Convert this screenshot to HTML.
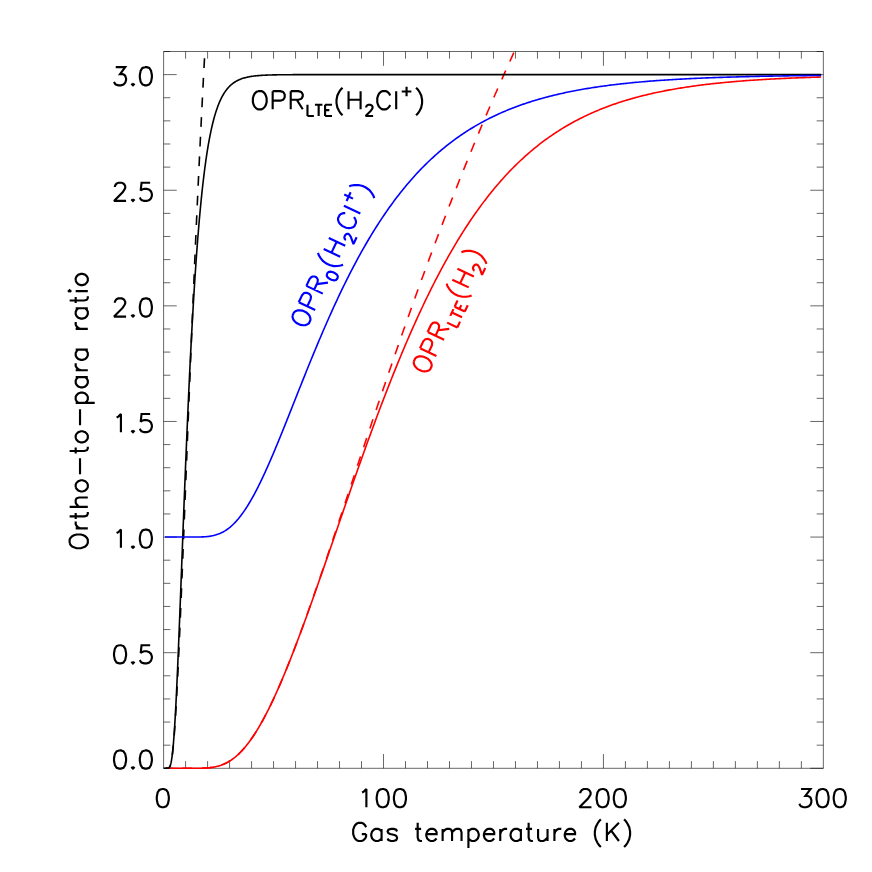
<!DOCTYPE html>
<html lang="en"><head><meta charset="utf-8"><title>Ortho-to-para ratio versus gas temperature</title>
<style>
html,body{margin:0;padding:0;background:#fff}
body{width:872px;height:872px;overflow:hidden;font-family:"Liberation Sans",sans-serif}
svg{display:block}
.t{font-family:"Liberation Sans",sans-serif;font-size:24px;fill:#000;fill-opacity:0;stroke:none}
</style></head><body>
<svg width="872" height="872" viewBox="0 0 872 872">
<rect width="872" height="872" fill="#fff"/>
<g fill="none" stroke-linecap="butt" stroke-linejoin="round">
<!-- axes and ticks -->
<path d="M163.6 51.5H823.35V768.3H163.6ZM185.59 768.3v-7.2M185.59 51.5v7.2M207.58 768.3v-7.2M207.58 51.5v7.2M229.57 768.3v-7.2M229.57 51.5v7.2M251.57 768.3v-7.2M251.57 51.5v7.2M273.56 768.3v-7.2M273.56 51.5v7.2M295.55 768.3v-7.2M295.55 51.5v7.2M317.54 768.3v-7.2M317.54 51.5v7.2M339.53 768.3v-7.2M339.53 51.5v7.2M361.52 768.3v-7.2M361.52 51.5v7.2M383.52 768.3v-14.3M383.52 51.5v14.3M405.51 768.3v-7.2M405.51 51.5v7.2M427.5 768.3v-7.2M427.5 51.5v7.2M449.49 768.3v-7.2M449.49 51.5v7.2M471.48 768.3v-7.2M471.48 51.5v7.2M493.48 768.3v-7.2M493.48 51.5v7.2M515.47 768.3v-7.2M515.47 51.5v7.2M537.46 768.3v-7.2M537.46 51.5v7.2M559.45 768.3v-7.2M559.45 51.5v7.2M581.44 768.3v-7.2M581.44 51.5v7.2M603.43 768.3v-14.3M603.43 51.5v14.3M625.42 768.3v-7.2M625.42 51.5v7.2M647.42 768.3v-7.2M647.42 51.5v7.2M669.41 768.3v-7.2M669.41 51.5v7.2M691.4 768.3v-7.2M691.4 51.5v7.2M713.39 768.3v-7.2M713.39 51.5v7.2M735.38 768.3v-7.2M735.38 51.5v7.2M757.38 768.3v-7.2M757.38 51.5v7.2M779.37 768.3v-7.2M779.37 51.5v7.2M801.36 768.3v-7.2M801.36 51.5v7.2M163.6 768.3h13.1M823.35 768.3h-13.1M163.6 745.18h6.7M823.35 745.18h-6.7M163.6 722.05h6.7M823.35 722.05h-6.7M163.6 698.93h6.7M823.35 698.93h-6.7M163.6 675.81h6.7M823.35 675.81h-6.7M163.6 652.69h13.1M823.35 652.69h-13.1M163.6 629.56h6.7M823.35 629.56h-6.7M163.6 606.44h6.7M823.35 606.44h-6.7M163.6 583.32h6.7M823.35 583.32h-6.7M163.6 560.2h6.7M823.35 560.2h-6.7M163.6 537.07h13.1M823.35 537.07h-13.1M163.6 513.95h6.7M823.35 513.95h-6.7M163.6 490.83h6.7M823.35 490.83h-6.7M163.6 467.71h6.7M823.35 467.71h-6.7M163.6 444.58h6.7M823.35 444.58h-6.7M163.6 421.46h13.1M823.35 421.46h-13.1M163.6 398.34h6.7M823.35 398.34h-6.7M163.6 375.22h6.7M823.35 375.22h-6.7M163.6 352.09h6.7M823.35 352.09h-6.7M163.6 328.97h6.7M823.35 328.97h-6.7M163.6 305.85h13.1M823.35 305.85h-13.1M163.6 282.73h6.7M823.35 282.73h-6.7M163.6 259.6h6.7M823.35 259.6h-6.7M163.6 236.48h6.7M823.35 236.48h-6.7M163.6 213.36h6.7M823.35 213.36h-6.7M163.6 190.24h13.1M823.35 190.24h-13.1M163.6 167.11h6.7M823.35 167.11h-6.7M163.6 143.99h6.7M823.35 143.99h-6.7M163.6 120.87h6.7M823.35 120.87h-6.7M163.6 97.75h6.7M823.35 97.75h-6.7M163.6 74.62h13.1M823.35 74.62h-13.1M163.6 51.5h6.7M823.35 51.5h-6.7" stroke="#000" stroke-width="0.6"/>
<!-- curves -->
<g stroke-width="1.6" stroke-linejoin="round">
<path d="M165.8 768.3L166.58 768.3L167.36 768.3L168.14 768.3L168.92 768.3L169.7 768.3L170.48 768.3L171.26 768.3L172.04 768.3L172.82 768.3L173.6 768.3L174.38 768.3L175.16 768.3L175.94 768.3L176.72 768.3L177.5 768.3L178.28 768.3L179.06 768.3L179.84 768.3L180.62 768.3L181.4 768.3L182.18 768.3L182.96 768.3L183.74 768.3L184.52 768.3L185.3 768.3L186.08 768.3L186.86 768.3L187.64 768.3L188.42 768.3L189.2 768.3L189.98 768.3L190.76 768.3L191.54 768.3L192.32 768.3L193.1 768.29L193.88 768.29L194.66 768.29L195.44 768.28L196.22 768.28L197 768.27L197.78 768.26L198.56 768.25L199.34 768.24L200.12 768.23L200.9 768.21L201.68 768.19L202.46 768.16L203.24 768.13L204.02 768.1L204.8 768.06L205.58 768.02L206.36 767.97L207.14 767.91L207.92 767.85L208.7 767.78L209.48 767.7L210.26 767.61L211.04 767.51L211.82 767.41L212.6 767.29L213.38 767.16L214.16 767.02L214.94 766.87L215.72 766.7L216.5 766.52L217.28 766.33L218.06 766.13L218.84 765.91L219.62 765.67L220.4 765.42L221.18 765.15L221.96 764.86L222.74 764.56L223.52 764.24L224.3 763.9L225.08 763.54L225.86 763.16L226.64 762.77L227.42 762.35L228.2 761.92L228.72 761.61L229.24 761.3L229.76 760.98L230.28 760.65L230.8 760.31L231.32 759.97L231.84 759.61L232.36 759.24L232.88 758.86L233.4 758.48L233.92 758.08L234.44 757.67L234.96 757.26L235.48 756.83L236.01 756.39L236.53 755.95L237.05 755.49L237.57 755.02L238.09 754.55L238.61 754.06L239.13 753.56L239.65 753.05L240.17 752.54L240.69 752.01L241.21 751.47L241.73 750.92L242.25 750.36L242.77 749.79L243.29 749.21L243.81 748.62L244.33 748.02L244.85 747.41L245.37 746.79L245.89 746.16L246.41 745.52L246.93 744.87L247.45 744.21L247.97 743.54L248.49 742.86L249.01 742.17L249.53 741.47L250.05 740.75L250.57 740.03L251.09 739.3L251.61 738.56L252.13 737.81L252.65 737.05L253.17 736.28L253.69 735.49L254.21 734.7L254.73 733.9L255.25 733.09L255.77 732.27L256.29 731.44L256.81 730.61L257.33 729.76L257.85 728.9L258.37 728.03L258.89 727.16L259.41 726.27L259.93 725.38L260.45 724.47L260.97 723.56L261.49 722.64L262.01 721.71L262.53 720.77L263.05 719.82L263.57 718.86L264.09 717.89L264.61 716.92L265.13 715.94L265.65 714.95L266.17 713.95L266.69 712.94L267.21 711.92L267.73 710.9L268.25 709.86L268.77 708.82L269.29 707.77L269.81 706.71L270.33 705.65L270.85 704.58L271.37 703.5L271.63 702.95L271.89 702.41L272.15 701.86L272.41 701.31L272.67 700.76L272.93 700.21L273.19 699.65L273.45 699.1L273.71 698.54L273.97 697.98L274.23 697.42L274.49 696.85L274.75 696.29L275.01 695.72L275.27 695.15L275.53 694.58L275.79 694.01L276.05 693.44L276.31 692.86L276.57 692.28L276.83 691.7L277.09 691.12L277.35 690.54L277.61 689.95L277.87 689.37L278.13 688.78L278.39 688.19L278.65 687.6L278.91 687.01L279.17 686.41L279.43 685.81L279.69 685.22L279.95 684.62L280.21 684.02L280.47 683.41L280.73 682.81L280.99 682.2L281.25 681.6L281.51 680.99L281.77 680.38L282.03 679.76L282.29 679.15L282.55 678.53L282.81 677.92L283.07 677.3L283.33 676.68L283.59 676.06L283.85 675.44L284.11 674.81L284.37 674.19L284.63 673.56L284.89 672.93L285.15 672.3L285.41 671.67L285.67 671.04L285.93 670.4L286.19 669.77L286.45 669.13L286.71 668.49L286.97 667.85L287.23 667.21L287.49 666.57L287.75 665.92L288.01 665.28L288.27 664.63L288.53 663.98L288.79 663.33L289.05 662.68L289.31 662.03L289.57 661.38L289.83 660.72L290.09 660.07L290.35 659.41L290.61 658.75L290.87 658.09L291.13 657.43L291.39 656.77L291.65 656.11L291.91 655.45L292.17 654.78L292.43 654.11L292.69 653.45L292.95 652.78L293.21 652.11L293.47 651.44L293.73 650.76L293.99 650.09L294.25 649.41L294.51 648.74L294.77 648.06L295.03 647.38L295.29 646.71L295.55 646.03L296.87 642.56L298.18 639.08L299.5 635.56L300.82 632.02L302.14 628.46L303.45 624.88L304.77 621.28L306.09 617.65L307.41 614.01L308.72 610.35L310.04 606.67L311.36 602.98L312.67 599.27L313.99 595.55L315.31 591.81L316.63 588.06L317.94 584.31L319.26 580.54L320.58 576.76L321.9 572.97L323.21 569.18L324.53 565.37L325.85 561.57L327.17 557.75L328.48 553.93L329.8 550.11L331.12 546.29L332.43 542.46L333.75 538.64L335.07 534.81L336.39 530.98L337.7 527.15L339.02 523.33L340.34 519.51L341.66 515.69L342.97 511.87L344.29 508.06L345.61 504.25L346.92 500.45L348.24 496.65L349.56 492.87L350.88 489.09L352.19 485.31L353.51 481.55L354.83 477.79L356.15 474.05L357.46 470.31L358.78 466.59L360.1 462.87L361.41 459.17L362.73 455.48L364.05 451.8L365.37 448.14L366.68 444.49L368 440.85L369.32 437.23L370.64 433.62L371.95 430.03L373.27 426.45L374.59 422.89L375.91 419.34L377.22 415.82L378.54 412.31L379.86 408.81L381.17 405.34L382.49 401.88L383.81 398.44L385.13 395.02L386.44 391.62L387.76 388.24L389.08 384.87L390.4 381.53L391.71 378.21L393.03 374.91L394.35 371.62L395.66 368.36L396.98 365.12L398.3 361.9L399.62 358.71L400.93 355.53L402.25 352.37L403.57 349.24L404.89 346.13L406.2 343.04L407.52 339.98L408.84 336.93L410.15 333.91L411.47 330.91L412.79 327.94L414.11 324.99L415.42 322.06L416.74 319.15L418.06 316.27L419.38 313.41L420.69 310.57L422.01 307.76L423.33 304.97L424.64 302.2L425.96 299.46L427.28 296.74L428.6 294.04L429.91 291.37L431.23 288.72L432.55 286.1L433.87 283.5L435.18 280.92L436.5 278.36L437.82 275.83L439.14 273.33L440.45 270.84L441.77 268.38L443.09 265.94L444.4 263.53L445.72 261.14L447.04 258.78L448.36 256.43L449.67 254.11L450.99 251.81L452.31 249.54L453.63 247.29L454.94 245.06L456.26 242.86L457.58 240.67L458.89 238.51L460.21 236.38L461.53 234.26L462.85 232.17L464.16 230.1L465.48 228.05L466.8 226.02L468.12 224.02L469.43 222.03L470.75 220.07L472.07 218.13L473.38 216.22L474.7 214.32L476.02 212.44L477.34 210.59L478.65 208.76L479.97 206.94L481.29 205.15L482.61 203.38L483.92 201.63L485.24 199.9L486.56 198.19L487.88 196.5L489.19 194.82L490.51 193.17L491.83 191.54L493.14 189.93L494.46 188.33L495.78 186.76L497.1 185.2L498.41 183.67L499.73 182.15L501.05 180.65L502.37 179.17L503.68 177.71L505 176.26L506.32 174.83L507.63 173.42L508.95 172.03L510.27 170.66L511.59 169.3L512.9 167.96L514.22 166.63L515.54 165.33L516.86 164.04L518.17 162.76L519.49 161.5L520.81 160.26L522.12 159.04L523.44 157.83L524.76 156.63L526.08 155.45L527.39 154.29L528.71 153.14L530.03 152.01L531.35 150.89L532.66 149.78L533.98 148.69L535.3 147.62L536.62 146.56L537.93 145.51L539.25 144.48L540.57 143.46L541.88 142.45L543.2 141.46L544.52 140.48L545.84 139.52L547.15 138.57L548.47 137.63L549.79 136.7L551.11 135.79L552.42 134.88L553.74 133.99L555.06 133.12L556.37 132.25L557.69 131.4L559.01 130.56L560.33 129.73L561.64 128.91L562.96 128.1L564.28 127.31L565.6 126.52L566.91 125.75L568.23 124.98L569.55 124.23L570.86 123.49L572.18 122.76L573.5 122.04L574.82 121.32L576.13 120.62L577.45 119.93L578.77 119.25L580.09 118.58L581.4 117.92L582.72 117.26L584.04 116.62L585.35 115.99L586.67 115.36L587.99 114.74L589.31 114.14L590.62 113.54L591.94 112.95L593.26 112.37L594.58 111.79L595.89 111.23L597.21 110.67L598.53 110.12L599.85 109.58L601.16 109.05L602.48 108.52L603.8 108.01L605.11 107.5L606.43 106.99L607.75 106.5L609.07 106.01L610.38 105.53L611.7 105.05L613.02 104.59L614.34 104.13L615.65 103.67L616.97 103.23L618.29 102.79L619.6 102.35L620.92 101.93L622.24 101.51L623.56 101.09L624.87 100.68L626.19 100.28L627.51 99.88L628.83 99.49L630.14 99.11L631.46 98.73L632.78 98.36L634.09 97.99L635.41 97.63L636.73 97.27L638.05 96.92L639.36 96.57L640.68 96.23L642 95.9L643.32 95.57L644.63 95.24L645.95 94.92L647.27 94.6L648.59 94.29L649.9 93.99L651.22 93.68L652.54 93.39L653.85 93.09L655.17 92.8L656.49 92.52L657.81 92.24L659.12 91.97L660.44 91.69L661.76 91.43L663.08 91.16L664.39 90.9L665.71 90.65L667.03 90.4L668.34 90.15L669.66 89.91L670.98 89.67L672.3 89.43L673.61 89.2L674.93 88.97L676.25 88.74L677.57 88.52L678.88 88.3L680.2 88.09L681.52 87.88L682.83 87.67L684.15 87.46L685.47 87.26L686.79 87.06L688.1 86.86L689.42 86.67L690.74 86.48L692.06 86.29L693.37 86.11L694.69 85.93L696.01 85.75L697.33 85.57L698.64 85.4L699.96 85.23L701.28 85.06L702.59 84.89L703.91 84.73L705.23 84.57L706.55 84.41L707.86 84.26L709.18 84.11L710.5 83.95L711.82 83.81L713.13 83.66L714.45 83.52L715.77 83.38L717.08 83.24L718.4 83.1L719.72 82.97L721.04 82.83L722.35 82.7L723.67 82.57L724.99 82.45L726.31 82.32L727.62 82.2L728.94 82.08L730.26 81.96L731.57 81.84L732.89 81.73L734.21 81.61L735.53 81.5L736.84 81.39L738.16 81.28L739.48 81.18L740.8 81.07L742.11 80.97L743.43 80.87L744.75 80.77L746.07 80.67L747.38 80.57L748.7 80.48L750.02 80.39L751.33 80.29L752.65 80.2L753.97 80.11L755.29 80.03L756.6 79.94L757.92 79.85L759.24 79.77L760.56 79.69L761.87 79.61L763.19 79.53L764.51 79.45L765.82 79.37L767.14 79.29L768.46 79.22L769.78 79.14L771.09 79.07L772.41 79L773.73 78.93L775.05 78.86L776.36 78.79L777.68 78.73L779 78.66L780.31 78.6L781.63 78.53L782.95 78.47L784.27 78.41L785.58 78.35L786.9 78.29L788.22 78.23L789.54 78.17L790.85 78.11L792.17 78.06L793.49 78L794.8 77.95L796.12 77.89L797.44 77.84L798.76 77.79L800.07 77.74L801.39 77.69L802.71 77.64L804.03 77.59L805.34 77.54L806.66 77.49L807.98 77.45L809.3 77.4L810.61 77.36L811.93 77.31L813.25 77.27L814.56 77.23L815.88 77.18L817.2 77.14L818.52 77.1L819.83 77.06L821.15 77.02" stroke="#f00"/>
<path d="M165.8 768.3L166.58 768.3L167.36 768.3L168.14 768.3L168.92 768.3L169.7 768.3L170.48 768.3L171.26 768.3L172.04 768.3L172.82 768.3L173.6 768.3L174.38 768.3L175.16 768.3L175.94 768.3L176.72 768.3L177.5 768.3L178.28 768.3L179.06 768.3L179.84 768.3L180.62 768.3L181.4 768.3L182.18 768.3L182.96 768.3L183.74 768.3L184.52 768.3L185.3 768.3L186.08 768.3L186.86 768.3L187.64 768.3L188.42 768.3L189.2 768.3L189.98 768.3L190.76 768.3L191.54 768.3L192.32 768.3L193.1 768.29L193.88 768.29L194.66 768.29L195.44 768.28L196.22 768.28L197 768.27L197.78 768.26L198.56 768.25L199.34 768.24L200.12 768.23L200.9 768.21L201.68 768.19L202.46 768.16L203.24 768.13L204.02 768.1L204.8 768.06L205.58 768.02L206.36 767.97L207.14 767.91L207.92 767.85L208.7 767.78L209.48 767.7L210.26 767.61L211.04 767.51L211.82 767.41L212.6 767.29L213.38 767.16L214.16 767.02L214.94 766.87L215.72 766.7L216.5 766.52L217.28 766.33L218.06 766.13L218.84 765.91L219.62 765.67L220.4 765.42L221.18 765.15L221.96 764.86L222.74 764.56L223.52 764.24L224.3 763.9L225.08 763.54L225.86 763.16L226.64 762.77L227.42 762.35L228.2 761.92L228.72 761.61L229.24 761.3L229.76 760.98L230.28 760.65L230.8 760.31L231.32 759.97L231.84 759.61L232.36 759.24L232.88 758.86L233.4 758.48L233.92 758.08L234.44 757.67L234.96 757.26L235.48 756.83L236.01 756.39L236.53 755.95L237.05 755.49L237.57 755.02L238.09 754.55L238.61 754.06L239.13 753.56L239.65 753.05L240.17 752.54L240.69 752.01L241.21 751.47L241.73 750.92L242.25 750.36L242.77 749.79L243.29 749.21L243.81 748.62L244.33 748.02L244.85 747.41L245.37 746.79L245.89 746.16L246.41 745.52L246.93 744.87L247.45 744.21L247.97 743.54L248.49 742.86L249.01 742.17L249.53 741.47L250.05 740.75L250.57 740.03L251.09 739.3L251.61 738.56L252.13 737.81L252.65 737.05L253.17 736.27L253.69 735.49L254.21 734.7L254.73 733.9L255.25 733.09L255.77 732.27L256.29 731.44L256.81 730.6L257.33 729.76L257.85 728.9L258.37 728.03L258.89 727.15L259.41 726.27L259.93 725.37L260.45 724.47L260.97 723.56L261.49 722.63L262.01 721.7L262.53 720.76L263.05 719.81L263.57 718.86L264.09 717.89L264.61 716.92L265.13 715.93L265.65 714.94L266.17 713.94L266.69 712.93L267.21 711.91L267.73 710.89L268.25 709.86L268.77 708.81L269.29 707.76L269.81 706.71L270.33 705.64L270.85 704.57L271.37 703.49L271.63 702.94L271.89 702.4L272.15 701.85L272.41 701.3L272.67 700.75L272.93 700.2L273.19 699.64L273.45 699.09L273.71 698.53L273.97 697.97L274.23 697.4L274.49 696.84L274.75 696.27L275.01 695.71L275.27 695.14L275.53 694.57L275.79 693.99L276.05 693.42L276.31 692.84L276.57 692.26L276.83 691.68L277.09 691.1L277.35 690.52L277.61 689.93L277.87 689.35L278.13 688.76L278.39 688.17L278.65 687.57L278.91 686.98L279.17 686.39L279.43 685.79L279.69 685.19L279.95 684.59L280.21 683.99L280.47 683.38L280.73 682.78L280.99 682.17L281.25 681.56L281.51 680.95L281.77 680.34L282.03 679.73L282.29 679.11L282.55 678.5L282.81 677.88L283.07 677.26L283.33 676.64L283.59 676.02L283.85 675.39L284.11 674.77L284.37 674.14L284.63 673.51L284.89 672.88L285.15 672.25L285.41 671.62L285.67 670.99L285.93 670.35L286.19 669.71L286.45 669.07L286.71 668.44L286.97 667.79L287.23 667.15L287.49 666.51L287.75 665.86L288.01 665.22L288.27 664.57L288.53 663.92L288.79 663.27L289.05 662.61L289.31 661.96L289.57 661.31L289.83 660.65L290.09 659.99L290.35 659.33L290.61 658.67L290.87 658.01L291.13 657.35L291.39 656.69L291.65 656.02L291.91 655.36L292.17 654.69L292.43 654.02L292.69 653.35L292.95 652.68L293.21 652.01L293.47 651.33L293.73 650.66L293.99 649.98L294.25 649.3L294.51 648.63L294.77 647.95L295.03 647.27L295.29 646.58L295.55 645.9L296.87 642.42L298.18 638.92L299.5 635.39L300.82 631.83L302.14 628.25L303.45 624.65L304.77 621.02L306.09 617.37L307.41 613.7L308.72 610L310.04 606.29L311.36 602.56L312.67 598.82L313.99 595.05L315.31 591.27L316.63 587.48L317.94 583.67L319.26 579.84L320.58 576L321.9 572.16L323.21 568.3L324.53 564.42L325.85 560.54L327.17 556.65L328.48 552.75L329.8 548.84L331.12 544.92L332.43 541L333.75 537.07L335.07 533.13L336.39 529.19L337.7 525.25L339.02 521.29L340.34 517.34L341.66 513.38L342.97 509.42L344.29 505.46L345.61 501.49L346.92 497.52L348.24 493.56L349.56 489.59L350.88 485.62L352.19 481.65L353.51 477.68L354.83 473.71L356.15 469.74L357.46 465.78L358.78 461.82L360.1 457.85L361.41 453.9L362.73 449.94L364.05 445.99L365.37 442.04L366.68 438.09L368 434.15L369.32 430.22L370.64 426.29L371.95 422.36L373.27 418.44L374.59 414.52L375.91 410.61L377.22 406.7L378.54 402.8L379.86 398.91L381.17 395.02L382.49 391.14L383.81 387.27L385.13 383.41L386.44 379.55L387.76 375.69L389.08 371.85L390.4 368.01L391.71 364.19L393.03 360.36L394.35 356.55L395.66 352.75L396.98 348.95L398.3 345.16L399.62 341.39L400.93 337.62L402.25 333.85L403.57 330.1L404.89 326.36L406.2 322.63L407.52 318.9L408.84 315.19L410.15 311.48L411.47 307.78L412.79 304.1L414.11 300.42L415.42 296.75L416.74 293.1L418.06 289.45L419.38 285.81L420.69 282.19L422.01 278.57L423.33 274.96L424.64 271.37L425.96 267.78L427.28 264.2L428.6 260.64L429.91 257.08L431.23 253.54L432.55 250L433.87 246.48L435.18 242.97L436.5 239.47L437.82 235.97L439.14 232.49L440.45 229.02L441.77 225.56L443.09 222.11L444.4 218.68L445.72 215.25L447.04 211.83L448.36 208.43L449.67 205.03L450.99 201.65L452.31 198.27L453.63 194.91L454.94 191.56L456.26 188.22L457.58 184.89L458.89 181.57L460.21 178.26L461.53 174.96L462.85 171.68L464.16 168.4L465.48 165.14L466.8 161.88L468.12 158.64L469.43 155.41L470.75 152.18L472.07 148.97L473.38 145.77L474.7 142.58L476.02 139.41L477.34 136.24L478.65 133.08L479.97 129.93L481.29 126.8L482.61 123.67L483.92 120.56L485.24 117.46L486.56 114.36L487.88 111.28L489.19 108.21L490.51 105.15L491.83 102.1L493.14 99.06L494.46 96.03L495.78 93.01L497.1 90L498.41 87L499.73 84.01L501.05 81.03L502.37 78.07L503.68 75.11L505 72.16L506.32 69.23L507.63 66.3L508.95 63.39L510.27 60.48L511.59 57.58L512.9 54.7L514.22 51.82L514.37 51.5" stroke="#f00" stroke-dasharray="9.75 9.9" stroke-dashoffset="3.05"/>
<path d="M163.7 768.3L165.58 768.3L166.36 768.3L167.14 768.29L167.92 768.23L168.7 767.95L169.23 767.52L169.75 766.75L170.27 765.55L170.53 764.74L170.79 763.79L171.05 762.67L171.31 761.37L171.57 759.89L171.83 758.21L172.09 756.33L172.35 754.24L172.61 751.93L172.87 749.41L173.13 746.67L173.39 743.7L173.65 740.52L173.91 737.11L174.17 733.49L174.43 729.66L174.7 725.61L174.96 721.36L175.22 716.92L175.48 712.28L175.74 707.45L176 702.45L176.26 697.28L176.52 691.95L176.78 686.46L177.04 680.83L177.3 675.06L177.56 669.17L177.82 663.16L178.08 657.04L178.34 650.82L178.6 644.51L178.86 638.11L179.12 631.64L179.38 625.09L179.64 618.49L179.9 611.84L180.17 605.15L180.43 598.41L180.69 591.64L180.95 584.85L181.21 578.04L181.47 571.22L181.73 564.4L181.99 557.57L182.25 550.74L182.51 543.93L182.77 537.13L183.03 530.35L183.29 523.59L183.55 516.85L183.81 510.15L184.07 503.48L184.33 496.85L184.59 490.26L184.85 483.71L185.11 477.21L185.37 470.75L185.63 464.35L185.9 458L186.16 451.7L186.42 445.46L186.68 439.28L186.94 433.16L187.2 427.11L187.46 421.11L187.72 415.18L187.98 409.31L188.24 403.51L188.5 397.78L188.76 392.11L189.02 386.51L189.28 380.98L189.54 375.52L189.8 370.13L190.06 364.81L190.32 359.56L190.58 354.39L190.84 349.28L191.1 344.24L191.37 339.27L191.63 334.38L191.89 329.55L192.15 324.8L192.41 320.11L192.67 315.5L192.93 310.95L193.19 306.48L193.45 302.07L193.71 297.73L193.97 293.46L194.23 289.26L194.49 285.12L194.75 281.06L195.01 277.05L195.27 273.12L195.53 269.25L195.79 265.44L196.05 261.7L196.31 258.02L196.57 254.4L196.83 250.84L197.1 247.35L197.36 243.92L197.62 240.54L197.88 237.23L198.14 233.97L198.4 230.78L198.66 227.63L198.92 224.55L199.18 221.52L199.44 218.55L199.7 215.63L199.96 212.76L200.22 209.95L200.48 207.19L200.74 204.48L201 201.82L201.26 199.21L201.52 196.65L201.78 194.13L202.04 191.67L202.3 189.25L202.56 186.88L202.83 184.55L203.09 182.27L203.35 180.03L203.61 177.84L203.87 175.69L204.13 173.58L204.39 171.51L204.65 169.48L204.91 167.49L205.17 165.54L205.43 163.63L205.69 161.76L205.95 159.92L206.21 158.13L206.47 156.36L206.73 154.64L206.99 152.94L207.25 151.28L207.51 149.66L207.77 148.06L208.03 146.5L208.3 144.98L208.56 143.48L208.82 142.01L209.08 140.57L209.34 139.17L209.6 137.79L209.86 136.44L210.12 135.11L210.38 133.82L210.64 132.55L210.9 131.31L211.16 130.09L211.42 128.9L211.68 127.73L211.94 126.59L212.2 125.47L212.46 124.37L212.72 123.3L212.98 122.25L213.24 121.22L213.5 120.22L213.76 119.23L214.03 118.27L214.29 117.32L214.55 116.4L214.81 115.49L215.07 114.61L215.33 113.74L215.59 112.89L215.85 112.06L216.11 111.25L216.37 110.45L216.63 109.67L216.89 108.91L217.15 108.17L217.41 107.44L217.67 106.72L217.93 106.02L218.19 105.34L218.45 104.67L218.71 104.01L218.97 103.37L219.23 102.75L219.49 102.13L219.76 101.53L220.02 100.94L220.28 100.37L220.54 99.81L220.8 99.25L221.32 98.19L221.84 97.17L222.36 96.19L222.88 95.26L223.4 94.36L223.92 93.51L224.44 92.69L224.96 91.9L225.49 91.15L226.01 90.43L226.53 89.75L227.05 89.09L227.57 88.46L228.09 87.86L228.61 87.28L229.13 86.73L229.65 86.2L230.17 85.7L230.69 85.22L231.22 84.76L231.74 84.31L232.26 83.89L232.78 83.49L233.3 83.1L233.82 82.73L234.34 82.38L234.86 82.04L235.38 81.72L235.9 81.41L236.69 80.97L237.47 80.56L238.25 80.17L239.03 79.81L239.81 79.48L240.59 79.16L241.37 78.87L242.16 78.59L242.94 78.34L243.72 78.09L244.5 77.87L245.28 77.66L246.06 77.46L246.84 77.28L247.62 77.11L248.41 76.95L249.19 76.79L249.97 76.65L250.75 76.52L251.53 76.4L252.31 76.28L253.09 76.18L253.88 76.08L254.66 75.98L255.44 75.89L256.22 75.81L257 75.73L257.78 75.66L258.56 75.59L259.35 75.53L260.13 75.47L260.91 75.42L261.69 75.37L262.47 75.32L263.25 75.27L264.03 75.23L264.82 75.19L265.6 75.15L266.38 75.12L267.16 75.09L267.94 75.06L268.72 75.03L269.5 75L270.29 74.98L271.07 74.96L271.85 74.93L272.63 74.91L273.41 74.89L274.19 74.88L274.97 74.86L275.75 74.85L276.54 74.83L277.32 74.82L278.1 74.8L278.88 74.79L279.66 74.78L280.44 74.77L281.22 74.76L282.01 74.75L282.79 74.74L283.57 74.74L284.35 74.73L285.13 74.72L285.91 74.72L286.69 74.71L287.48 74.7L288.26 74.7L289.04 74.69L289.82 74.69L290.6 74.68L291.38 74.68L292.16 74.68L292.95 74.67L293.73 74.67L294.51 74.67L295.29 74.66L296.87 74.66L298.18 74.66L299.5 74.65L300.82 74.65L302.14 74.65L303.45 74.64L304.77 74.64L306.09 74.64L307.41 74.64L308.72 74.64L310.04 74.63L311.36 74.63L312.67 74.63L313.99 74.63L315.31 74.63L316.63 74.63L317.94 74.63L319.26 74.63L320.58 74.63L321.9 74.63L323.21 74.63L324.53 74.63L325.85 74.63L327.17 74.63L328.48 74.63L329.8 74.62L331.12 74.62L332.43 74.62L333.75 74.62L335.07 74.62L336.39 74.62L337.7 74.62L339.02 74.62L340.34 74.62L341.66 74.62L342.97 74.62L344.29 74.62L345.61 74.62L346.92 74.62L348.24 74.62L349.56 74.62L350.88 74.62L352.19 74.62L353.51 74.62L354.83 74.62L356.15 74.62L357.46 74.62L358.78 74.62L360.1 74.62L361.41 74.62L362.73 74.62L364.05 74.62L365.37 74.62L366.68 74.62L368 74.62L369.32 74.62L370.64 74.62L371.95 74.62L373.27 74.62L374.59 74.62L375.91 74.62L377.22 74.62L378.54 74.62L379.86 74.62L381.17 74.62L382.49 74.62L383.81 74.62L385.13 74.62L386.44 74.62L387.76 74.62L389.08 74.62L390.4 74.62L391.71 74.62L393.03 74.62L394.35 74.62L395.66 74.62L396.98 74.62L398.3 74.62L399.62 74.62L400.93 74.62L402.25 74.62L403.57 74.62L404.89 74.62L406.2 74.62L407.52 74.62L408.84 74.62L410.15 74.62L411.47 74.62L412.79 74.62L414.11 74.62L415.42 74.62L416.74 74.62L418.06 74.62L419.38 74.62L420.69 74.62L422.01 74.62L423.33 74.62L424.64 74.62L425.96 74.62L427.28 74.62L428.6 74.62L429.91 74.62L431.23 74.62L432.55 74.62L433.87 74.62L435.18 74.62L436.5 74.62L437.82 74.62L439.14 74.62L440.45 74.62L441.77 74.62L443.09 74.62L444.4 74.62L445.72 74.62L447.04 74.62L448.36 74.62L449.67 74.62L450.99 74.62L452.31 74.62L453.63 74.62L454.94 74.62L456.26 74.62L457.58 74.62L458.89 74.62L460.21 74.62L461.53 74.62L462.85 74.62L464.16 74.62L465.48 74.62L466.8 74.62L468.12 74.62L469.43 74.62L470.75 74.62L472.07 74.62L473.38 74.62L474.7 74.62L476.02 74.62L477.34 74.62L478.65 74.62L479.97 74.62L481.29 74.62L482.61 74.62L483.92 74.62L485.24 74.62L486.56 74.62L487.88 74.62L489.19 74.62L490.51 74.62L491.83 74.62L493.14 74.62L494.46 74.62L495.78 74.62L497.1 74.62L498.41 74.62L499.73 74.62L501.05 74.62L502.37 74.62L503.68 74.62L505 74.62L506.32 74.62L507.63 74.62L508.95 74.62L510.27 74.62L511.59 74.62L512.9 74.62L514.22 74.62L515.54 74.62L516.86 74.62L518.17 74.62L519.49 74.62L520.81 74.62L522.12 74.62L523.44 74.62L524.76 74.62L526.08 74.62L527.39 74.62L528.71 74.62L530.03 74.62L531.35 74.62L532.66 74.62L533.98 74.62L535.3 74.62L536.62 74.62L537.93 74.62L539.25 74.62L540.57 74.62L541.88 74.62L543.2 74.62L544.52 74.62L545.84 74.62L547.15 74.62L548.47 74.62L549.79 74.62L551.11 74.62L552.42 74.62L553.74 74.62L555.06 74.62L556.37 74.62L557.69 74.62L559.01 74.62L560.33 74.62L561.64 74.62L562.96 74.62L564.28 74.62L565.6 74.62L566.91 74.62L568.23 74.62L569.55 74.62L570.86 74.62L572.18 74.62L573.5 74.62L574.82 74.62L576.13 74.62L577.45 74.62L578.77 74.62L580.09 74.62L581.4 74.62L582.72 74.62L584.04 74.62L585.35 74.62L586.67 74.62L587.99 74.62L589.31 74.62L590.62 74.62L591.94 74.62L593.26 74.62L594.58 74.62L595.89 74.62L597.21 74.62L598.53 74.62L599.85 74.62L601.16 74.62L602.48 74.62L603.8 74.62L605.11 74.62L606.43 74.62L607.75 74.62L609.07 74.62L610.38 74.62L611.7 74.62L613.02 74.62L614.34 74.62L615.65 74.62L616.97 74.62L618.29 74.62L619.6 74.62L620.92 74.62L622.24 74.62L623.56 74.62L624.87 74.62L626.19 74.62L627.51 74.62L628.83 74.62L630.14 74.62L631.46 74.62L632.78 74.62L634.09 74.62L635.41 74.62L636.73 74.62L638.05 74.62L639.36 74.62L640.68 74.62L642 74.62L643.32 74.62L644.63 74.62L645.95 74.62L647.27 74.62L648.59 74.62L649.9 74.62L651.22 74.62L652.54 74.62L653.85 74.62L655.17 74.62L656.49 74.62L657.81 74.62L659.12 74.62L660.44 74.62L661.76 74.62L663.08 74.62L664.39 74.62L665.71 74.62L667.03 74.62L668.34 74.62L669.66 74.62L670.98 74.62L672.3 74.62L673.61 74.62L674.93 74.62L676.25 74.62L677.57 74.62L678.88 74.62L680.2 74.62L681.52 74.62L682.83 74.62L684.15 74.62L685.47 74.62L686.79 74.62L688.1 74.62L689.42 74.62L690.74 74.62L692.06 74.62L693.37 74.62L694.69 74.62L696.01 74.62L697.33 74.62L698.64 74.62L699.96 74.62L701.28 74.62L702.59 74.62L703.91 74.62L705.23 74.62L706.55 74.62L707.86 74.62L709.18 74.62L710.5 74.62L711.82 74.62L713.13 74.62L714.45 74.62L715.77 74.62L717.08 74.62L718.4 74.62L719.72 74.62L721.04 74.62L722.35 74.62L723.67 74.62L724.99 74.62L726.31 74.62L727.62 74.62L728.94 74.62L730.26 74.62L731.57 74.62L732.89 74.62L734.21 74.62L735.53 74.62L736.84 74.62L738.16 74.62L739.48 74.62L740.8 74.62L742.11 74.62L743.43 74.62L744.75 74.62L746.07 74.62L747.38 74.62L748.7 74.62L750.02 74.62L751.33 74.62L752.65 74.62L753.97 74.62L755.29 74.62L756.6 74.62L757.92 74.62L759.24 74.62L760.56 74.62L761.87 74.62L763.19 74.62L764.51 74.62L765.82 74.62L767.14 74.62L768.46 74.62L769.78 74.62L771.09 74.62L772.41 74.62L773.73 74.62L775.05 74.62L776.36 74.62L777.68 74.62L779 74.62L780.31 74.62L781.63 74.62L782.95 74.62L784.27 74.62L785.58 74.62L786.9 74.62L788.22 74.62L789.54 74.62L790.85 74.62L792.17 74.62L793.49 74.62L794.8 74.62L796.12 74.62L797.44 74.62L798.76 74.62L800.07 74.62L801.39 74.62L802.71 74.62L804.03 74.62L805.34 74.62L806.66 74.62L807.98 74.62L809.3 74.62L810.61 74.62L811.93 74.62L813.25 74.62L814.56 74.62L815.88 74.62L817.2 74.62L818.52 74.62L819.83 74.62L821.15 74.62" stroke="#000"/>
<path d="M165.8 768.3L166.58 768.3L167.36 768.28L168.14 768.17L168.92 767.77L169.44 767.19L169.96 766.24L170.22 765.59L170.48 764.82L170.74 763.91L171 762.84L171.26 761.62L171.52 760.24L171.78 758.68L172.04 756.95L172.3 755.04L172.56 752.94L172.82 750.66L173.08 748.2L173.34 745.55L173.6 742.71L173.86 739.69L174.12 736.49L174.38 733.12L174.64 729.57L174.9 725.85L175.16 721.97L175.42 717.92L175.68 713.72L175.94 709.37L176.2 704.87L176.46 700.23L176.72 695.46L176.98 690.56L177.24 685.53L177.5 680.38L177.76 675.12L178.02 669.76L178.28 664.29L178.54 658.72L178.8 653.06L179.06 647.31L179.32 641.48L179.58 635.58L179.84 629.6L180.1 623.55L180.36 617.44L180.62 611.27L180.88 605.04L181.14 598.76L181.4 592.44L181.66 586.07L181.92 579.66L182.18 573.21L182.44 566.73L182.7 560.23L182.96 553.69L183.22 547.13L183.48 540.55L183.74 533.95L184 527.34L184.26 520.71L184.52 514.07L184.78 507.42L185.04 500.77L185.3 494.11L185.56 487.45L185.82 480.79L186.08 474.14L186.34 467.48L186.6 460.83L186.86 454.19L187.12 447.55L187.38 440.93L187.64 434.31L187.9 427.71L188.16 421.12L188.42 414.55L188.68 407.99L188.94 401.44L189.2 394.92L189.46 388.41L189.72 381.93L189.98 375.46L190.24 369.02L190.5 362.6L190.76 356.2L191.02 349.82L191.28 343.47L191.54 337.14L191.8 330.83L192.06 324.56L192.32 318.3L192.58 312.08L192.84 305.88L193.1 299.71L193.36 293.56L193.62 287.45L193.88 281.36L194.14 275.3L194.4 269.27L194.66 263.27L194.92 257.3L195.18 251.36L195.44 245.44L195.7 239.56L195.96 233.71L196.22 227.89L196.48 222.09L196.74 216.33L197 210.6L197.26 204.9L197.52 199.23L197.78 193.59L198.04 187.98L198.3 182.4L198.56 176.85L198.82 171.33L199.08 165.84L199.34 160.38L199.6 154.96L199.86 149.56L200.12 144.19L200.38 138.86L200.64 133.55L200.9 128.27L201.16 123.03L201.42 117.81L201.68 112.63L201.94 107.47L202.2 102.35L202.46 97.25L202.72 92.18L202.98 87.15L203.24 82.14L203.5 77.16L203.76 72.21L204.02 67.29L204.28 62.4L204.54 57.53L204.8 52.7L204.87 51.5" stroke="#000" stroke-dasharray="9.75 9.9" stroke-dashoffset="3.05"/>
<path d="M165.03 537.07L165.81 537.07L166.6 537.07L167.38 537.07L168.17 537.07L168.95 537.07L169.74 537.07L170.52 537.07L171.31 537.07L172.09 537.07L172.88 537.07L173.66 537.07L174.45 537.07L175.23 537.07L176.02 537.07L176.8 537.07L177.58 537.07L178.37 537.07L179.15 537.07L179.94 537.07L180.72 537.07L181.51 537.07L182.29 537.07L183.08 537.07L183.86 537.07L184.65 537.07L185.43 537.07L186.22 537.07L187 537.07L187.79 537.07L188.57 537.07L189.35 537.07L190.14 537.07L190.92 537.07L191.71 537.07L192.49 537.07L193.28 537.06L194.06 537.06L194.85 537.06L195.63 537.05L196.42 537.04L197.2 537.03L197.99 537.02L198.77 537.01L199.56 536.99L200.34 536.97L201.13 536.94L201.91 536.91L202.69 536.88L203.48 536.84L204.26 536.79L205.05 536.74L205.83 536.68L206.62 536.61L207.4 536.53L208.19 536.44L208.97 536.34L209.76 536.23L210.54 536.11L211.33 535.98L212.11 535.83L212.9 535.67L213.68 535.49L214.47 535.29L215.25 535.08L216.03 534.86L216.82 534.61L217.6 534.35L218.39 534.07L219.17 533.76L219.96 533.44L220.74 533.09L221.53 532.73L222.31 532.34L223.1 531.92L223.88 531.49L224.4 531.18L224.93 530.87L225.45 530.54L225.97 530.21L226.5 529.86L227.02 529.5L227.54 529.13L228.07 528.74L228.59 528.35L229.11 527.94L229.64 527.52L230.16 527.1L230.68 526.65L231.21 526.2L231.73 525.73L232.25 525.26L232.77 524.77L233.3 524.26L233.82 523.75L234.34 523.22L234.87 522.68L235.39 522.13L235.91 521.57L236.44 520.99L236.96 520.4L237.48 519.8L238.01 519.19L238.53 518.56L239.05 517.92L239.58 517.27L240.1 516.61L240.62 515.93L241.14 515.25L241.67 514.55L242.19 513.84L242.71 513.11L243.24 512.38L243.76 511.63L244.28 510.87L244.81 510.1L245.33 509.32L245.85 508.52L246.38 507.72L246.9 506.9L247.42 506.07L247.95 505.23L248.47 504.38L248.99 503.52L249.51 502.65L250.04 501.76L250.56 500.87L251.08 499.96L251.61 499.05L252.13 498.12L252.65 497.19L253.18 496.24L253.7 495.28L254.22 494.32L254.75 493.34L255.27 492.36L255.79 491.36L256.32 490.36L256.84 489.34L257.36 488.32L257.88 487.29L258.41 486.25L258.93 485.2L259.45 484.14L259.98 483.07L260.5 482L260.76 481.46L261.02 480.92L261.29 480.37L261.55 479.83L261.81 479.28L262.07 478.73L262.33 478.18L262.59 477.62L262.85 477.07L263.12 476.51L263.38 475.95L263.64 475.39L263.9 474.82L264.16 474.26L264.42 473.69L264.69 473.12L264.95 472.55L265.21 471.98L265.47 471.41L265.73 470.83L265.99 470.25L266.25 469.67L266.52 469.09L266.78 468.51L267.04 467.93L267.3 467.34L267.56 466.76L267.82 466.17L268.09 465.58L268.35 464.99L268.61 464.39L268.87 463.8L269.13 463.2L269.39 462.6L269.66 462.01L269.92 461.41L270.18 460.8L270.44 460.2L270.7 459.6L270.96 458.99L271.22 458.38L271.49 457.78L271.75 457.17L272.01 456.56L272.27 455.94L272.53 455.33L272.79 454.72L273.06 454.1L273.32 453.48L273.58 452.87L273.84 452.25L274.1 451.63L274.36 451.01L274.62 450.38L274.89 449.76L275.15 449.14L275.41 448.51L275.67 447.88L275.93 447.26L276.19 446.63L276.46 446L276.72 445.37L276.98 444.74L277.24 444.1L277.5 443.47L277.76 442.84L278.03 442.2L278.29 441.57L278.55 440.93L278.81 440.29L279.07 439.65L279.33 439.02L279.59 438.38L279.86 437.73L280.12 437.09L280.38 436.45L280.64 435.81L280.9 435.17L281.16 434.52L281.43 433.88L281.69 433.23L281.95 432.59L282.21 431.94L282.47 431.29L282.73 430.64L282.99 430L283.26 429.35L283.52 428.7L283.78 428.05L284.04 427.4L284.3 426.74L284.56 426.09L284.83 425.44L285.09 424.79L285.35 424.14L285.61 423.48L285.87 422.83L286.13 422.17L286.4 421.52L286.66 420.87L286.92 420.21L287.18 419.55L287.44 418.9L287.7 418.24L287.96 417.59L288.23 416.93L288.49 416.27L288.75 415.61L289.01 414.96L289.27 414.3L289.53 413.64L289.8 412.98L290.06 412.32L290.32 411.67L290.58 411.01L290.84 410.35L291.1 409.69L291.36 409.03L291.63 408.37L291.89 407.71L292.15 407.05L292.41 406.39L292.67 405.73L292.93 405.07L293.2 404.41L293.46 403.75L293.72 403.09L293.98 402.43L294.24 401.77L294.5 401.11L294.77 400.45L295.03 399.79L295.29 399.13L295.55 398.47L296.87 395.15L298.18 391.83L299.5 388.52L300.82 385.21L302.14 381.91L303.45 378.61L304.77 375.33L306.09 372.05L307.41 368.79L308.72 365.53L310.04 362.29L311.36 359.07L312.67 355.86L313.99 352.66L315.31 349.48L316.63 346.32L317.94 343.18L319.26 340.05L320.58 336.95L321.9 333.86L323.21 330.79L324.53 327.74L325.85 324.72L327.17 321.71L328.48 318.73L329.8 315.77L331.12 312.83L332.43 309.91L333.75 307.02L335.07 304.15L336.39 301.31L337.7 298.49L339.02 295.69L340.34 292.92L341.66 290.17L342.97 287.45L344.29 284.75L345.61 282.08L346.92 279.43L348.24 276.8L349.56 274.21L350.88 271.63L352.19 269.08L353.51 266.56L354.83 264.06L356.15 261.59L357.46 259.15L358.78 256.73L360.1 254.33L361.41 251.96L362.73 249.61L364.05 247.29L365.37 245L366.68 242.73L368 240.48L369.32 238.26L370.64 236.06L371.95 233.89L373.27 231.74L374.59 229.62L375.91 227.52L377.22 225.45L378.54 223.39L379.86 221.37L381.17 219.36L382.49 217.38L383.81 215.43L385.13 213.49L386.44 211.58L387.76 209.69L389.08 207.83L390.4 205.99L391.71 204.16L393.03 202.37L394.35 200.59L395.66 198.83L396.98 197.1L398.3 195.39L399.62 193.7L400.93 192.03L402.25 190.38L403.57 188.75L404.89 187.15L406.2 185.56L407.52 183.99L408.84 182.45L410.15 180.92L411.47 179.41L412.79 177.92L414.11 176.45L415.42 175L416.74 173.57L418.06 172.16L419.38 170.76L420.69 169.39L422.01 168.03L423.33 166.69L424.64 165.37L425.96 164.06L427.28 162.77L428.6 161.5L429.91 160.25L431.23 159.01L432.55 157.79L433.87 156.59L435.18 155.4L436.5 154.23L437.82 153.07L439.14 151.93L440.45 150.8L441.77 149.69L443.09 148.6L444.4 147.52L445.72 146.45L447.04 145.4L448.36 144.37L449.67 143.34L450.99 142.33L452.31 141.34L453.63 140.36L454.94 139.39L456.26 138.44L457.58 137.5L458.89 136.57L460.21 135.66L461.53 134.75L462.85 133.86L464.16 132.99L465.48 132.12L466.8 131.27L468.12 130.43L469.43 129.6L470.75 128.78L472.07 127.98L473.38 127.19L474.7 126.4L476.02 125.63L477.34 124.87L478.65 124.12L479.97 123.38L481.29 122.65L482.61 121.93L483.92 121.22L485.24 120.53L486.56 119.84L487.88 119.16L489.19 118.49L490.51 117.83L491.83 117.18L493.14 116.54L494.46 115.91L495.78 115.29L497.1 114.68L498.41 114.07L499.73 113.48L501.05 112.89L502.37 112.31L503.68 111.74L505 111.18L506.32 110.63L507.63 110.08L508.95 109.54L510.27 109.01L511.59 108.49L512.9 107.98L514.22 107.47L515.54 106.97L516.86 106.48L518.17 106L519.49 105.52L520.81 105.05L522.12 104.58L523.44 104.13L524.76 103.68L526.08 103.23L527.39 102.8L528.71 102.37L530.03 101.94L531.35 101.52L532.66 101.11L533.98 100.71L535.3 100.31L536.62 99.91L537.93 99.52L539.25 99.14L540.57 98.77L541.88 98.4L543.2 98.03L544.52 97.67L545.84 97.32L547.15 96.97L548.47 96.62L549.79 96.28L551.11 95.95L552.42 95.62L553.74 95.3L555.06 94.98L556.37 94.66L557.69 94.36L559.01 94.05L560.33 93.75L561.64 93.45L562.96 93.16L564.28 92.88L565.6 92.59L566.91 92.32L568.23 92.04L569.55 91.77L570.86 91.51L572.18 91.24L573.5 90.99L574.82 90.73L576.13 90.48L577.45 90.24L578.77 89.99L580.09 89.75L581.4 89.52L582.72 89.29L584.04 89.06L585.35 88.83L586.67 88.61L587.99 88.39L589.31 88.18L590.62 87.97L591.94 87.76L593.26 87.56L594.58 87.35L595.89 87.15L597.21 86.96L598.53 86.77L599.85 86.58L601.16 86.39L602.48 86.21L603.8 86.02L605.11 85.85L606.43 85.67L607.75 85.5L609.07 85.33L610.38 85.16L611.7 84.99L613.02 84.83L614.34 84.67L615.65 84.51L616.97 84.36L618.29 84.21L619.6 84.06L620.92 83.91L622.24 83.76L623.56 83.62L624.87 83.48L626.19 83.34L627.51 83.2L628.83 83.06L630.14 82.93L631.46 82.8L632.78 82.67L634.09 82.55L635.41 82.42L636.73 82.3L638.05 82.18L639.36 82.06L640.68 81.94L642 81.82L643.32 81.71L644.63 81.6L645.95 81.49L647.27 81.38L648.59 81.27L649.9 81.17L651.22 81.06L652.54 80.96L653.85 80.86L655.17 80.76L656.49 80.67L657.81 80.57L659.12 80.48L660.44 80.38L661.76 80.29L663.08 80.2L664.39 80.11L665.71 80.03L667.03 79.94L668.34 79.86L669.66 79.77L670.98 79.69L672.3 79.61L673.61 79.53L674.93 79.45L676.25 79.38L677.57 79.3L678.88 79.23L680.2 79.15L681.52 79.08L682.83 79.01L684.15 78.94L685.47 78.87L686.79 78.81L688.1 78.74L689.42 78.67L690.74 78.61L692.06 78.55L693.37 78.48L694.69 78.42L696.01 78.36L697.33 78.3L698.64 78.24L699.96 78.18L701.28 78.13L702.59 78.07L703.91 78.02L705.23 77.96L706.55 77.91L707.86 77.86L709.18 77.81L710.5 77.75L711.82 77.7L713.13 77.66L714.45 77.61L715.77 77.56L717.08 77.51L718.4 77.47L719.72 77.42L721.04 77.38L722.35 77.33L723.67 77.29L724.99 77.25L726.31 77.2L727.62 77.16L728.94 77.12L730.26 77.08L731.57 77.04L732.89 77L734.21 76.96L735.53 76.93L736.84 76.89L738.16 76.85L739.48 76.82L740.8 76.78L742.11 76.75L743.43 76.71L744.75 76.68L746.07 76.65L747.38 76.62L748.7 76.58L750.02 76.55L751.33 76.52L752.65 76.49L753.97 76.46L755.29 76.43L756.6 76.4L757.92 76.37L759.24 76.34L760.56 76.32L761.87 76.29L763.19 76.26L764.51 76.24L765.82 76.21L767.14 76.18L768.46 76.16L769.78 76.13L771.09 76.11L772.41 76.09L773.73 76.06L775.05 76.04L776.36 76.02L777.68 75.99L779 75.97L780.31 75.95L781.63 75.93L782.95 75.91L784.27 75.89L785.58 75.87L786.9 75.85L788.22 75.83L789.54 75.81L790.85 75.79L792.17 75.77L793.49 75.75L794.8 75.73L796.12 75.71L797.44 75.7L798.76 75.68L800.07 75.66L801.39 75.65L802.71 75.63L804.03 75.61L805.34 75.6L806.66 75.58L807.98 75.57L809.3 75.55L810.61 75.54L811.93 75.52L813.25 75.51L814.56 75.49L815.88 75.48L817.2 75.46L818.52 75.45L819.83 75.44L821.15 75.42" stroke="#00f"/>
</g>
<!-- stroked (Hershey) lettering -->
<g stroke-width="2.15" stroke-linejoin="miter" stroke-miterlimit="2.5">
<path d="M161.94 789.04L159.36 789.9L157.64 792.5L156.78 796.82L156.78 799.42L157.64 803.74L159.36 806.34L161.94 807.2L163.66 807.2L166.24 806.34L167.96 803.74L168.82 799.42L168.82 796.82L167.96 792.5L166.24 789.9L163.66 789.04L161.94 789.04" stroke="#000"/>
<path d="M362.08 792.5L363.8 791.63L366.38 789.04L366.38 807.2M381.86 789.04L379.28 789.9L377.56 792.5L376.7 796.82L376.7 799.42L377.56 803.74L379.28 806.34L381.86 807.2L383.58 807.2L386.16 806.34L387.88 803.74L388.74 799.42L388.74 796.82L387.88 792.5L386.16 789.9L383.58 789.04L381.86 789.04M399.06 789.04L396.48 789.9L394.76 792.5L393.9 796.82L393.9 799.42L394.76 803.74L396.48 806.34L399.06 807.2L400.78 807.2L403.36 806.34L405.08 803.74L405.94 799.42L405.94 796.82L405.08 792.5L403.36 789.9L400.78 789.04L399.06 789.04" stroke="#000"/>
<path d="M580.27 793.36L580.27 792.5L581.13 790.77L581.99 789.9L583.71 789.04L587.15 789.04L588.87 789.9L589.73 790.77L590.59 792.5L590.59 794.23L589.73 795.96L588.01 798.55L579.41 807.2L591.45 807.2M601.77 789.04L599.19 789.9L597.47 792.5L596.61 796.82L596.61 799.42L597.47 803.74L599.19 806.34L601.77 807.2L603.49 807.2L606.07 806.34L607.79 803.74L608.65 799.42L608.65 796.82L607.79 792.5L606.07 789.9L603.49 789.04L601.77 789.04M618.97 789.04L616.39 789.9L614.67 792.5L613.81 796.82L613.81 799.42L614.67 803.74L616.39 806.34L618.97 807.2L620.69 807.2L623.27 806.34L624.99 803.74L625.85 799.42L625.85 796.82L624.99 792.5L623.27 789.9L620.69 789.04L618.97 789.04" stroke="#000"/>
<path d="M801.05 789.04L810.51 789.04L805.35 795.96L807.93 795.96L809.65 796.82L810.51 797.69L811.37 800.28L811.37 802.01L810.51 804.61L808.79 806.34L806.21 807.2L803.63 807.2L801.05 806.34L800.19 805.47L799.33 803.74M821.69 789.04L819.11 789.9L817.39 792.5L816.53 796.82L816.53 799.42L817.39 803.74L819.11 806.34L821.69 807.2L823.41 807.2L825.99 806.34L827.71 803.74L828.57 799.42L828.57 796.82L827.71 792.5L825.99 789.9L823.41 789.04L821.69 789.04M838.89 789.04L836.31 789.9L834.59 792.5L833.73 796.82L833.73 799.42L834.59 803.74L836.31 806.34L838.89 807.2L840.61 807.2L843.19 806.34L844.91 803.74L845.77 799.42L845.77 796.82L844.91 792.5L843.19 789.9L840.61 789.04L838.89 789.04" stroke="#000"/>
<path d="M119.19 750.44L116.61 751.3L114.89 753.89L114.03 758.22L114.03 760.82L114.89 765.14L116.61 767.74L119.19 768.6L120.91 768.6L123.49 767.74L125.21 765.14L126.07 760.82L126.07 758.22L125.21 753.89L123.49 751.3L120.91 750.44L119.19 750.44M132.95 766.87L132.09 767.74L132.95 768.6L133.81 767.74L132.95 766.87M144.99 750.44L142.41 751.3L140.69 753.89L139.83 758.22L139.83 760.82L140.69 765.14L142.41 767.74L144.99 768.6L146.71 768.6L149.29 767.74L151.01 765.14L151.87 760.82L151.87 758.22L151.01 753.89L149.29 751.3L146.71 750.44L144.99 750.44" stroke="#000"/>
<path d="M119.19 645.22L116.61 646.09L114.89 648.68L114.03 653.01L114.03 655.6L114.89 659.93L116.61 662.52L119.19 663.39L120.91 663.39L123.49 662.52L125.21 659.93L126.07 655.6L126.07 653.01L125.21 648.68L123.49 646.09L120.91 645.22L119.19 645.22M132.95 661.66L132.09 662.52L132.95 663.39L133.81 662.52L132.95 661.66M150.15 645.22L141.55 645.22L140.69 653.01L141.55 652.14L144.13 651.28L146.71 651.28L149.29 652.14L151.01 653.87L151.87 656.47L151.87 658.2L151.01 660.79L149.29 662.52L146.71 663.39L144.13 663.39L141.55 662.52L140.69 661.66L139.83 659.93" stroke="#000"/>
<path d="M116.61 533.07L118.33 532.2L120.91 529.61L120.91 547.77M132.95 546.04L132.09 546.91L132.95 547.77L133.81 546.91L132.95 546.04M144.99 529.61L142.41 530.47L140.69 533.07L139.83 537.39L139.83 539.99L140.69 544.31L142.41 546.91L144.99 547.77L146.71 547.77L149.29 546.91L151.01 544.31L151.87 539.99L151.87 537.39L151.01 533.07L149.29 530.47L146.71 529.61L144.99 529.61" stroke="#000"/>
<path d="M116.61 417.46L118.33 416.59L120.91 414L120.91 432.16M132.95 430.43L132.09 431.3L132.95 432.16L133.81 431.3L132.95 430.43M150.15 414L141.55 414L140.69 421.78L141.55 420.92L144.13 420.05L146.71 420.05L149.29 420.92L151.01 422.65L151.87 425.24L151.87 426.97L151.01 429.57L149.29 431.3L146.71 432.16L144.13 432.16L141.55 431.3L140.69 430.43L139.83 428.7" stroke="#000"/>
<path d="M114.89 302.71L114.89 301.84L115.75 300.11L116.61 299.25L118.33 298.38L121.77 298.38L123.49 299.25L124.35 300.11L125.21 301.84L125.21 303.57L124.35 305.3L122.63 307.9L114.03 316.55L126.07 316.55M132.95 314.82L132.09 315.68L132.95 316.55L133.81 315.68L132.95 314.82M144.99 298.38L142.41 299.25L140.69 301.84L139.83 306.17L139.83 308.76L140.69 313.09L142.41 315.68L144.99 316.55L146.71 316.55L149.29 315.68L151.01 313.09L151.87 308.76L151.87 306.17L151.01 301.84L149.29 299.25L146.71 298.38L144.99 298.38" stroke="#000"/>
<path d="M114.89 187.1L114.89 186.23L115.75 184.5L116.61 183.64L118.33 182.77L121.77 182.77L123.49 183.64L124.35 184.5L125.21 186.23L125.21 187.96L124.35 189.69L122.63 192.29L114.03 200.94L126.07 200.94M132.95 199.21L132.09 200.07L132.95 200.94L133.81 200.07L132.95 199.21M150.15 182.77L141.55 182.77L140.69 190.56L141.55 189.69L144.13 188.83L146.71 188.83L149.29 189.69L151.01 191.42L151.87 194.02L151.87 195.75L151.01 198.34L149.29 200.07L146.71 200.94L144.13 200.94L141.55 200.07L140.69 199.21L139.83 197.48" stroke="#000"/>
<path d="M115.75 67.16L125.21 67.16L120.05 74.08L122.63 74.08L124.35 74.94L125.21 75.81L126.07 78.4L126.07 80.13L125.21 82.73L123.49 84.46L120.91 85.32L118.33 85.32L115.75 84.46L114.89 83.59L114.03 81.86M132.95 83.59L132.09 84.46L132.95 85.32L133.81 84.46L132.95 83.59M144.99 67.16L142.41 68.02L140.69 70.62L139.83 74.94L139.83 77.54L140.69 81.86L142.41 84.46L144.99 85.32L146.71 85.32L149.29 84.46L151.01 81.86L151.87 77.54L151.87 74.94L151.01 70.62L149.29 68.02L146.71 67.16L144.99 67.16" stroke="#000"/>
<path d="M366.08 827.16L365.22 825.43L363.5 823.7L361.78 822.84L358.34 822.84L356.62 823.7L354.9 825.43L354.04 827.16L353.18 829.75L353.18 834.08L354.04 836.67L354.9 838.4L356.62 840.13L358.34 841L361.78 841L363.5 840.13L365.22 838.4L366.08 836.67L366.08 834.08M361.78 834.08L366.08 834.08M381.56 828.89L381.56 841M381.56 831.49L379.84 829.75L378.12 828.89L375.54 828.89L373.82 829.75L372.1 831.49L371.24 834.08L371.24 835.81L372.1 838.4L373.82 840.13L375.54 841L378.12 841L379.84 840.13L381.56 838.4M397.04 831.49L396.18 829.75L393.6 828.89L391.02 828.89L388.44 829.75L387.58 831.49L388.44 833.22L390.16 834.08L394.46 834.95L396.18 835.81L397.04 837.54L397.04 838.4L396.18 840.13L393.6 841L391.02 841L388.44 840.13L387.58 838.4M417.68 822.84L417.68 837.54L418.54 840.13L420.26 841L421.98 841M415.1 828.89L421.12 828.89M426.28 834.08L436.6 834.08L436.6 832.35L435.74 830.62L434.88 829.75L433.16 828.89L430.58 828.89L428.86 829.75L427.14 831.49L426.28 834.08L426.28 835.81L427.14 838.4L428.86 840.13L430.58 841L433.16 841L434.88 840.13L436.6 838.4M442.62 828.89L442.62 841M442.62 832.35L445.2 829.75L446.92 828.89L449.5 828.89L451.22 829.75L452.08 832.35L452.08 841M452.08 832.35L454.66 829.75L456.38 828.89L458.96 828.89L460.68 829.75L461.54 832.35L461.54 841M468.42 828.89L468.42 847.92M468.42 831.49L470.14 829.75L471.86 828.89L474.44 828.89L476.16 829.75L477.88 831.49L478.74 834.08L478.74 835.81L477.88 838.4L476.16 840.13L474.44 841L471.86 841L470.14 840.13L468.42 838.4M483.9 834.08L494.22 834.08L494.22 832.35L493.36 830.62L492.5 829.75L490.78 828.89L488.2 828.89L486.48 829.75L484.76 831.49L483.9 834.08L483.9 835.81L484.76 838.4L486.48 840.13L488.2 841L490.78 841L492.5 840.13L494.22 838.4M500.24 828.89L500.24 841M500.24 834.08L501.1 831.49L502.82 829.75L504.54 828.89L507.12 828.89M520.88 828.89L520.88 841M520.88 831.49L519.16 829.75L517.44 828.89L514.86 828.89L513.14 829.75L511.42 831.49L510.56 834.08L510.56 835.81L511.42 838.4L513.14 840.13L514.86 841L517.44 841L519.16 840.13L520.88 838.4M528.62 822.84L528.62 837.54L529.48 840.13L531.2 841L532.92 841M526.04 828.89L532.06 828.89M538.08 828.89L538.08 837.54L538.94 840.13L540.66 841L543.24 841L544.96 840.13L547.54 837.54M547.54 828.89L547.54 841M554.42 828.89L554.42 841M554.42 834.08L555.28 831.49L557 829.75L558.72 828.89L561.3 828.89M564.74 834.08L575.06 834.08L575.06 832.35L574.2 830.62L573.34 829.75L571.62 828.89L569.04 828.89L567.32 829.75L565.6 831.49L564.74 834.08L564.74 835.81L565.6 838.4L567.32 840.13L569.04 841L571.62 841L573.34 840.13L575.06 838.4M600.86 819.38L599.14 821.11L597.42 823.7L595.7 827.16L594.84 831.49L594.84 834.95L595.7 839.27L597.42 842.73L599.14 845.33L600.86 847.05M606.88 822.84L606.88 841M618.92 822.84L606.88 834.95M611.18 830.62L618.92 841M624.08 819.38L625.8 821.11L627.52 823.7L629.24 827.16L630.1 831.49L630.1 834.95L629.24 839.27L627.52 842.73L625.8 845.33L624.08 847.05" stroke="#000"/>
<path d="M69.63 543.06L70.5 544.78L72.23 546.5L73.96 547.36L76.55 548.22L80.88 548.22L83.47 547.36L85.2 546.5L86.94 544.78L87.8 543.06L87.8 539.62L86.94 537.9L85.2 536.18L83.47 535.32L80.88 534.46L76.55 534.46L73.96 535.32L72.23 536.18L70.5 537.9L69.63 539.62L69.63 543.06M75.69 528.44L87.8 528.44M80.88 528.44L78.28 527.58L76.55 525.86L75.69 524.14L75.69 521.56M69.63 516.4L84.34 516.4L86.94 515.54L87.8 513.82L87.8 512.1M75.69 518.98L75.69 512.96M69.63 506.94L87.8 506.94M79.15 506.94L76.55 504.36L75.69 502.64L75.69 500.06L76.55 498.34L79.15 497.48L87.8 497.48M75.69 487.16L76.55 488.88L78.28 490.6L80.88 491.46L82.61 491.46L85.2 490.6L86.94 488.88L87.8 487.16L87.8 484.58L86.94 482.86L85.2 481.14L82.61 480.28L80.88 480.28L78.28 481.14L76.55 482.86L75.69 484.58L75.69 487.16M80.02 474.26L80.02 458.26M69.63 451.04L84.34 451.04L86.94 450.18L87.8 448.46L87.8 446.74M75.69 453.62L75.69 447.6M75.69 438.14L76.55 439.86L78.28 441.58L80.88 442.44L82.61 442.44L85.2 441.58L86.94 439.86L87.8 438.14L87.8 435.56L86.94 433.84L85.21 432.12L82.61 431.26L80.88 431.26L78.29 432.12L76.56 433.84L75.69 435.56L75.69 438.14M80.02 425.24L80.02 409.24M75.69 402.88L94.72 402.88M78.29 402.88L76.56 401.16L75.69 399.44L75.69 396.86L76.56 395.14L78.29 393.42L80.88 392.56L82.61 392.56L85.21 393.42L86.94 395.14L87.8 396.86L87.8 399.44L86.94 401.16L85.21 402.88M75.69 377.08L87.8 377.08M78.29 377.08L76.56 378.8L75.69 380.52L75.69 383.1L76.56 384.82L78.29 386.54L80.88 387.4L82.61 387.4L85.21 386.54L86.94 384.82L87.8 383.1L87.8 380.52L86.94 378.8L85.21 377.08M75.69 370.2L87.8 370.2M80.88 370.2L78.29 369.34L76.56 367.62L75.69 365.9L75.69 363.32M75.69 349.56L87.8 349.56M78.29 349.56L76.56 351.28L75.69 353L75.69 355.58L76.56 357.3L78.29 359.02L80.88 359.88L82.61 359.88L85.21 359.02L86.94 357.3L87.8 355.58L87.8 353L86.94 351.28L85.21 349.56M75.69 328.92L87.8 328.92M80.88 328.92L78.29 328.06L76.56 326.34L75.69 324.62L75.69 322.04M75.69 308.28L87.8 308.28M78.29 308.28L76.56 310L75.69 311.72L75.69 314.3L76.56 316.02L78.29 317.74L80.88 318.6L82.61 318.6L85.21 317.74L86.94 316.02L87.8 314.3L87.8 311.72L86.94 310L85.21 308.28M69.64 300.54L84.34 300.54L86.94 299.68L87.8 297.96L87.8 296.24M75.69 303.12L75.69 297.1M69.64 291.94L70.5 291.08L69.64 290.22L68.77 291.08L69.64 291.94M75.69 291.08L87.8 291.08M75.69 280.76L76.56 282.48L78.29 284.2L80.88 285.06L82.61 285.06L85.21 284.2L86.94 282.48L87.8 280.76L87.8 278.18L86.94 276.46L85.21 274.74L82.61 273.88L80.88 273.88L78.29 274.74L76.56 276.46L75.69 278.18L75.69 280.76" stroke="#000"/>
<path d="M258.04 91.13L256.32 92L254.6 93.73L253.74 95.46L252.88 98.05L252.88 102.38L253.74 104.97L254.6 106.7L256.32 108.44L258.04 109.3L261.48 109.3L263.2 108.44L264.92 106.7L265.78 104.97L266.64 102.38L266.64 98.05L265.78 95.46L264.92 93.73L263.2 92L261.48 91.13L258.04 91.13M272.66 91.13L272.66 109.3M272.66 91.13L280.4 91.13L282.98 92L283.84 92.86L284.7 94.59L284.7 97.19L283.84 98.92L282.98 99.78L280.4 100.65L272.66 100.65M290.72 91.13L290.72 109.3M290.72 91.13L298.46 91.13L301.04 92L301.9 92.86L302.76 94.59L302.76 96.33L301.9 98.05L301.04 98.92L298.46 99.78L290.72 99.78M296.74 99.78L302.76 109.3M307.47 104.74L307.47 116M307.47 116L313.87 116M318.67 104.74L318.67 116M314.94 104.74L322.4 104.74M325.07 104.74L325.07 116M325.07 104.74L332 104.74M325.07 110.1L329.33 110.1M325.07 116L332 116M342.53 87.67L340.81 89.41L339.09 92L337.37 95.46L336.51 99.78L336.51 103.25L337.37 107.57L339.09 111.03L340.81 113.62L342.53 115.35M348.55 91.13L348.55 109.3M360.59 91.13L360.59 109.3M348.55 99.78L360.59 99.78M366.16 107.42L366.16 106.88L366.69 105.81L367.23 105.27L368.29 104.74L370.42 104.74L371.49 105.27L372.02 105.81L372.56 106.88L372.56 107.96L372.02 109.03L370.96 110.64L365.63 116L373.09 116M390.17 95.46L389.31 93.73L387.59 92L385.87 91.13L382.43 91.13L380.71 92L378.99 93.73L378.13 95.46L377.27 98.05L377.27 102.38L378.13 104.97L378.99 106.7L380.71 108.44L382.43 109.3L385.87 109.3L387.59 108.44L389.31 106.7L390.17 104.97M396.19 91.13L396.19 109.3M406.56 86.65L406.56 96.3M401.76 91.47L411.36 91.47M416.07 87.67L417.79 89.41L419.51 92L421.23 95.46L422.09 99.78L422.09 103.25L421.23 107.57L419.51 111.03L417.79 113.62L416.07 115.35" stroke="#000"/>
<path d="M292.53 315.49L292.59 317.41L293.42 319.7L294.63 321.21L296.61 323.09L300.53 324.93L303.24 325.25L305.17 325.21L307.47 324.38L308.98 323.19L310.44 320.08L310.39 318.15L309.55 315.86L308.35 314.35L306.36 312.47L302.45 310.63L299.73 310.31L297.8 310.36L295.51 311.18L293.99 312.37L292.53 315.49M298.74 302.25L315.19 309.95M298.74 302.25L302.02 295.24L303.9 293.27L305.04 292.86L306.98 292.81L309.33 293.91L310.53 295.42L310.95 296.57L310.64 299.27L307.35 306.28M306.4 285.89L322.85 293.6M306.4 285.89L309.68 278.88L311.56 276.91L312.71 276.5L314.64 276.46L316.2 277.19L317.41 278.7L317.82 279.85L317.51 282.55L314.23 289.56M316.78 284.11L327.95 282.69M326.95 274.08L326.76 275.75L327.76 277.4L329.97 279.02L331.42 279.7L334.08 280.36L335.99 280.08L337.15 278.85L337.6 277.89L337.8 276.21L336.79 274.56L334.59 272.94L333.13 272.26L330.48 271.61L328.57 271.89L327.4 273.11L326.95 274.08M318 252.96L318.84 255.25L320.46 257.91L322.86 260.94L326.41 263.55L329.55 265.02L333.83 266.07L337.69 265.98L340.77 265.53L343.07 264.7M323.69 248.98L340.14 256.68M328.8 238.07L345.25 245.78M331.52 252.65L336.63 241.74M345.91 239.93L345.42 239.71L344.68 238.77L344.42 238.06L344.38 236.87L345.29 234.93L346.23 234.2L346.94 233.94L348.13 233.91L349.11 234.37L349.85 235.31L350.86 236.95L353.45 244.06L356.62 237.3M345.26 213.12L343.33 213.16L341.03 213.99L339.52 215.18L338.06 218.29L338.12 220.22L338.95 222.51L340.15 224.02L342.14 225.9L346.06 227.74L348.77 228.06L350.7 228.01L353 227.19L354.51 226L355.97 222.88L355.92 220.96L355.08 218.67L353.88 217.15M343.9 205.83L360.35 213.54M344.23 194.54L352.98 198.63M346.57 200.93L350.64 192.24M349.2 186.36L351.5 185.53L354.58 185.08L358.44 184.99L362.72 186.04L365.85 187.51L369.41 190.13L371.81 193.15L373.43 195.81L374.27 198.1" stroke="#00f"/>
<path d="M413.76 361.56L413.81 363.49L414.64 365.78L415.84 367.29L417.82 369.18L421.74 371.02L424.45 371.35L426.38 371.3L428.68 370.48L430.2 369.3L431.66 366.18L431.61 364.26L430.78 361.97L429.58 360.45L427.6 358.57L423.68 356.73L420.97 356.4L419.04 356.44L416.74 357.26L415.22 358.45L413.76 361.56M419.98 348.33L436.42 356.07M419.98 348.33L423.28 341.33L425.16 339.36L426.31 338.95L428.24 338.91L430.59 340.02L431.79 341.53L432.21 342.68L431.89 345.38L428.59 352.39M427.67 331.99L444.11 339.73M427.67 331.99L430.97 324.99L432.85 323.02L434 322.61L435.93 322.57L437.5 323.31L438.7 324.82L439.11 325.97L438.8 328.67L435.5 335.68M438.06 330.23L449.24 328.83M447.11 322.63L457.31 327.42M457.31 327.42L460.03 321.63M451.88 312.49L462.07 317.29M450.29 315.87L453.47 309.12M454.61 306.7L464.8 311.5M454.61 306.7L457.56 300.43M459.46 308.99L461.28 305.13M464.8 311.5L467.75 305.23M446.6 283.64L447.43 285.94L449.05 288.6L451.45 291.63L455 294.25L458.13 295.72L462.41 296.78L466.27 296.7L469.35 296.25L471.65 295.43M452.3 279.67L468.73 287.4M457.42 268.78L473.86 276.51M460.12 283.35L465.25 272.46M474.53 270.67L474.04 270.44L473.3 269.5L473.04 268.79L473.01 267.6L473.92 265.67L474.86 264.93L475.57 264.67L476.77 264.65L477.74 265.11L478.48 266.04L479.48 267.69L482.07 274.8L485.24 268.05M461.39 252.21L463.69 251.39L466.77 250.94L470.64 250.85L474.92 251.92L478.05 253.39L481.59 256.01L483.99 259.04L485.61 261.7L486.44 263.99" stroke="#f00"/>
</g>
</g>
<!-- text layer -->
<g>
<text class="t" x="154.2" y="807.2" textLength="17.2" lengthAdjust="spacingAndGlyphs">0</text>
<text class="t" x="356.92" y="807.2" textLength="51.6" lengthAdjust="spacingAndGlyphs">100</text>
<text class="t" x="576.83" y="807.2" textLength="51.6" lengthAdjust="spacingAndGlyphs">200</text>
<text class="t" x="796.75" y="807.2" textLength="51.6" lengthAdjust="spacingAndGlyphs">300</text>
<text class="t" x="111.45" y="768.6" textLength="43" lengthAdjust="spacingAndGlyphs">0.0</text>
<text class="t" x="111.45" y="663.39" textLength="43" lengthAdjust="spacingAndGlyphs">0.5</text>
<text class="t" x="111.45" y="547.77" textLength="43" lengthAdjust="spacingAndGlyphs">1.0</text>
<text class="t" x="111.45" y="432.16" textLength="43" lengthAdjust="spacingAndGlyphs">1.5</text>
<text class="t" x="111.45" y="316.55" textLength="43" lengthAdjust="spacingAndGlyphs">2.0</text>
<text class="t" x="111.45" y="200.94" textLength="43" lengthAdjust="spacingAndGlyphs">2.5</text>
<text class="t" x="111.45" y="85.32" textLength="43" lengthAdjust="spacingAndGlyphs">3.0</text>
<text class="t" x="350.6" y="841" textLength="282.94" lengthAdjust="spacingAndGlyphs">Gas temperature (K)</text>
<text class="t" x="87.8" y="550.8" textLength="279.5" lengthAdjust="spacingAndGlyphs" transform="rotate(-90 87.8 550.8)">Ortho-to-para ratio</text>
<text class="t" x="250.3" y="109.3" textLength="175.23" lengthAdjust="spacingAndGlyphs">OPR<tspan baseline-shift="sub" font-size="15">LTE</tspan>(H<tspan baseline-shift="sub" font-size="15">2</tspan>Cl<tspan baseline-shift="super" font-size="15">+</tspan>)</text>
<text class="t" x="305.7" y="330.2" textLength="158.17" lengthAdjust="spacingAndGlyphs" transform="rotate(-64.9 305.7 330.2)">OPR<tspan baseline-shift="sub" font-size="15">0</tspan>(H<tspan baseline-shift="sub" font-size="15">2</tspan>Cl<tspan baseline-shift="super" font-size="15">+</tspan>)</text>
<text class="t" x="426.9" y="376.3" textLength="136.43" lengthAdjust="spacingAndGlyphs" transform="rotate(-64.8 426.9 376.3)">OPR<tspan baseline-shift="sub" font-size="15">LTE</tspan>(H<tspan baseline-shift="sub" font-size="15">2</tspan>)</text>
</g>
</svg>
</body></html>
